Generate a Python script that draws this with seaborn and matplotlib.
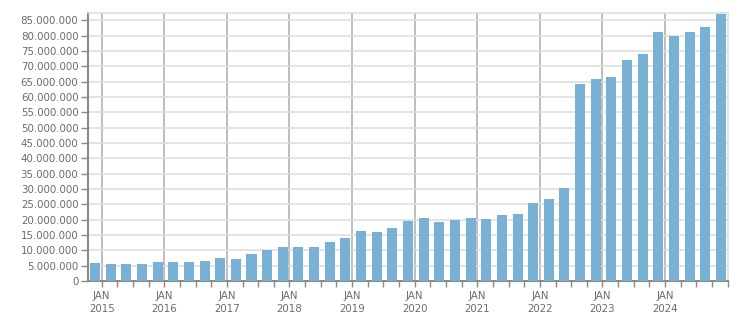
import matplotlib
matplotlib.use("Agg")
import matplotlib.pyplot as plt
from matplotlib.ticker import FuncFormatter, FixedLocator
import seaborn as sns
import pandas as pd
import numpy as np

# Quarterly values (Q4 2014 .. Q4 2024)
years = [2014] + [y for y in range(2015, 2025) for _ in range(4)]
quarters = [4] + [q for _ in range(2015, 2025) for q in (1, 2, 3, 4)]
values = [
    6.0,
    5.7, 5.7, 5.7, 6.3,
    6.3, 6.3, 6.65, 7.6,
    7.3, 8.9, 10.2, 11.2,
    11.2, 11.2, 12.8, 14.1,
    16.4, 16.1, 17.4, 19.6,
    20.6, 19.3, 20.0, 20.6,
    20.3, 21.6, 21.9, 25.5,
    26.8, 30.4, 64.2, 65.8,
    66.4, 72.0, 74.0, 81.1,
    79.8, 81.1, 82.7, 87.2,
]
values = [v * 1e6 for v in values]
tick_years = list(range(2015, 2025))
tick_labels = [f"JAN\n{y}" for y in tick_years]

BAR = "#78b1d3"
TXT = "#6e6878"
BAR_W = 0.16  # in years

sns.set_style("white")
plt.rcParams["font.family"] = ["DejaVu Sans"]

# bar ends just before the start of the following quarter
pos = [y + q * 0.25 - 0.107 for y, q in zip(years, quarters)]
df = pd.DataFrame({"x": pos, "v": values})

fig = plt.figure(figsize=(7.51, 3.13), dpi=100)
ax = fig.add_axes([87.5 / 751, 1 - 281 / 313, (728.3 - 87.5) / 751, (281 - 13.3) / 313])

sns.barplot(data=df, x="x", y="v", native_scale=True, width=0.64,
            color=BAR, saturation=1, ax=ax, zorder=3)
# enforce the bar width around each bar's own centre
for p in ax.patches:
    c = p.get_x() + p.get_width() / 2
    p.set_width(BAR_W)
    p.set_x(c - BAR_W / 2)
    p.set_linewidth(0)

ax.set_xlim(2014.773, 2025.01)
ax.set_ylim(0, 87.3e6)

ax.set_yticks(np.arange(0, 85e6 + 1, 5e6))
ax.yaxis.set_major_formatter(FuncFormatter(lambda v, p: f"{int(round(v)):,}".replace(",", ".")))

ax.xaxis.set_major_locator(FixedLocator(tick_years))
ax.set_xticklabels(tick_labels)
ax.xaxis.set_minor_locator(FixedLocator([y + q * 0.25 for y in range(2015, 2025) for q in (1, 2, 3)] + [2025]))

ax.set_xlabel("")
ax.set_ylabel("")

ax.set_axisbelow(True)
ax.yaxis.grid(True, color="#dcdcdc", lw=1.1, zorder=0)
ax.xaxis.grid(True, which="major", color="#b3b3b3", lw=1.2, zorder=0)

for s in ("left", "bottom"):
    ax.spines[s].set_color("#8a8a8a")
    ax.spines[s].set_linewidth(1.5)
for s in ("top", "right"):
    ax.spines[s].set_color("#dcdcdc")
    ax.spines[s].set_linewidth(1.1)

ax.tick_params(axis="y", which="major", left=True, length=5, width=1, color="#8a8a8a",
               labelsize=7.4, labelcolor=TXT, pad=1.5)
ax.tick_params(axis="x", which="major", bottom=True, length=4, width=1, color="#8a8a8a",
               labelsize=7.4, labelcolor=TXT, pad=3)
ax.tick_params(axis="x", which="minor", bottom=True, length=4, width=1, color="#8a8a8a")
for t in ax.get_xticklabels():
    t.set_linespacing(1.45)

fig.savefig("out.png", dpi=100)
